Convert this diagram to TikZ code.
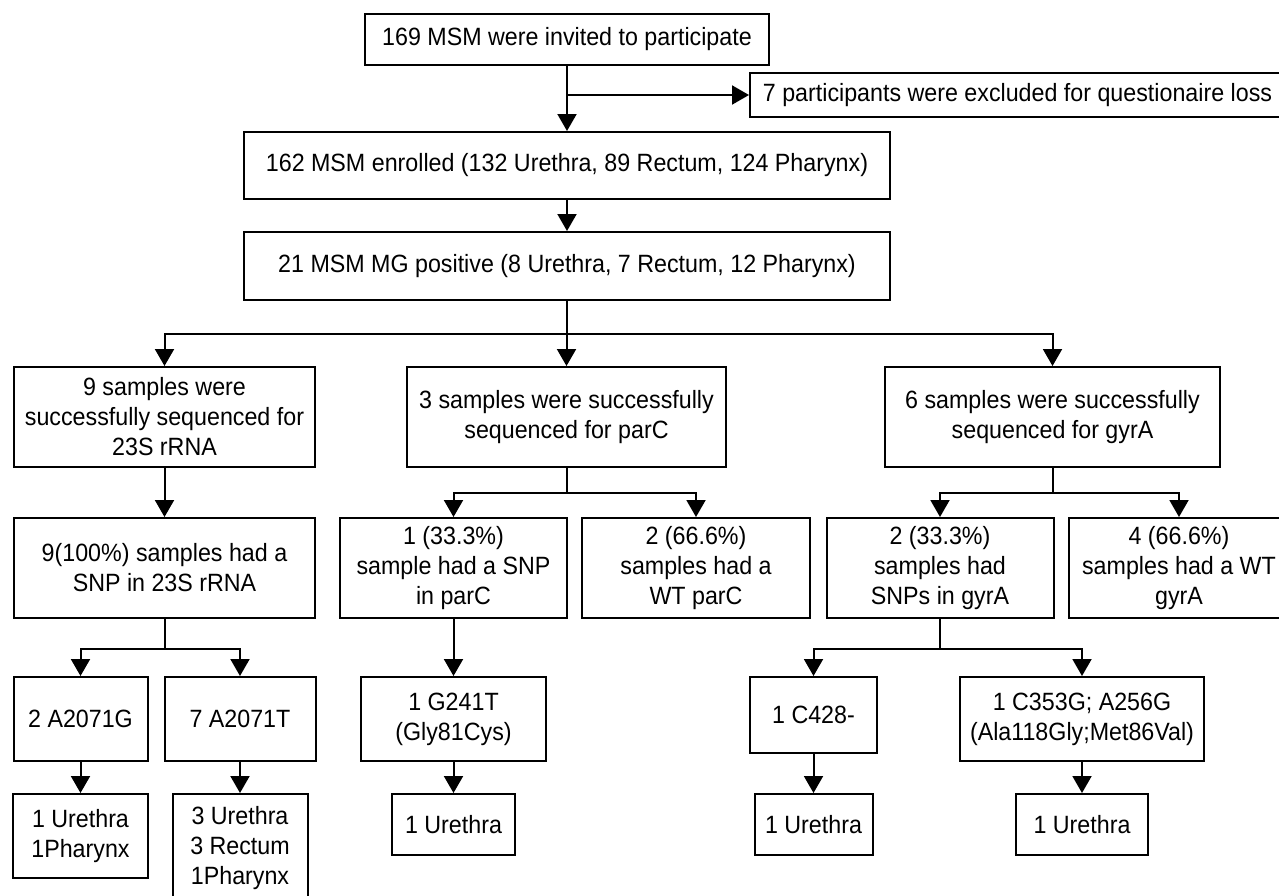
\documentclass[tikz,border=0pt]{standalone}
\usepackage{fontspec}
\setmainfont{Liberation Sans}[FakeStretch=0.93]
\usetikzlibrary{arrows.meta}
\tikzset{
  flowbox/.style 2 args={draw, line width=1pt, align=center, inner sep=0pt,
    minimum width=#1*0.5pt, minimum height=#2*0.5pt},
  arr/.style={line width=1pt, -{Triangle[width=9.5pt,length=8.5pt]}}
}
\begin{document}
\begin{tikzpicture}[x=0.5pt,y=-0.5pt,font=\fontsize{12.5}{15}\selectfont]
\useasboundingbox (0,0) rectangle (1279,895);
% top of the chart
\node[flowbox={404}{51}] (invite) at (567,39.5) {169 MSM were invited to participate};
\node[flowbox={535}{44}] (excl) at (1017.5,95) {7 participants were excluded for questionaire loss};
\node[flowbox={646}{67}] (enrol) at (567,165.5) {162 MSM enrolled (132 Urethra, 89 Rectum, 124 Pharynx)};
\node[flowbox={646}{68}] (pos) at (567,266) {21 MSM MG positive (8 Urethra, 7 Rectum, 12 Pharynx)};
% genes
\node[flowbox={301}{100}] (rrna) at (164.5,417) {9 samples were\\successfully sequenced for\\23S rRNA};
\node[flowbox={319}{100}] (parc) at (566.5,417) {3 samples were successfully\\sequenced for parC};
\node[flowbox={335}{100}] (gyra) at (1052.5,417) {6 samples were successfully\\sequenced for gyrA};
% SNP / WT
\node[flowbox={301}{100}] (snp23) at (164.5,568) {9(100\%) samples had a\\SNP in 23S rRNA};
\node[flowbox={227}{100}] (snpparc) at (453.5,568) {1 (33.3\%)\\sample had a SNP\\in parC};
\node[flowbox={228}{100}] (wtparc) at (696,568) {2 (66.6\%)\\samples had a\\WT parC};
\node[flowbox={227}{100}] (snpgyra) at (940,568) {2 (33.3\%)\\samples had\\SNPs in gyrA};
\node[flowbox={221}{100}] (wtgyra) at (1179,568) {4 (66.6\%)\\samples had a WT\\gyrA};
% mutations
\node[flowbox={134}{84}] (a2071g) at (80.5,719) {2 A2071G};
\node[flowbox={151}{84}] (a2071t) at (240,719) {7 A2071T};
\node[flowbox={185}{84}] (g241t) at (453.5,719) {1 G241T\\(Gly81Cys)};
\node[flowbox={127}{76}] (c428) at (813.5,715) {1 C428-};
\node[flowbox={244}{84}] (c353g) at (1082,719) {1 C353G; A256G\\(Ala118Gly;Met86Val)};
% sites
\node[flowbox={135}{84}] (ur1ph) at (80.5,836) {1 Urethra\\1Pharynx};
\node[flowbox={135}{108}] (ur3) at (240,848) {3 Urethra\\3 Rectum\\1Pharynx};
\node[flowbox={123}{61}] (urparc) at (453.5,824.5) {1 Urethra};
\node[flowbox={118}{61}] (urc428) at (813.5,824.5) {1 Urethra};
\node[flowbox={132}{61}] (urc353) at (1082,824.5) {1 Urethra};
% connectors
\foreach \a/\b in {invite/enrol, enrol/pos, rrna/snp23, snpparc/g241t,
  a2071g/ur1ph, a2071t/ur3, g241t/urparc, c428/urc428, c353g/urc353}
  \draw[arr] (\a) -- (\b);
\draw[arr] (invite.south |- excl.west) -- (excl.west);
\foreach \src/\d/\dst in {pos/33/rrna, pos/33/parc, pos/33/gyra,
  parc/25/snpparc, parc/25/wtparc, gyra/25/snpgyra, gyra/25/wtgyra,
  snp23/30/a2071g, snp23/30/a2071t, snpgyra/30/c428, snpgyra/30/c353g}
  \draw[arr] (\src.south) -- ++(0,\d) -| (\dst.north);
\end{tikzpicture}
\end{document}
